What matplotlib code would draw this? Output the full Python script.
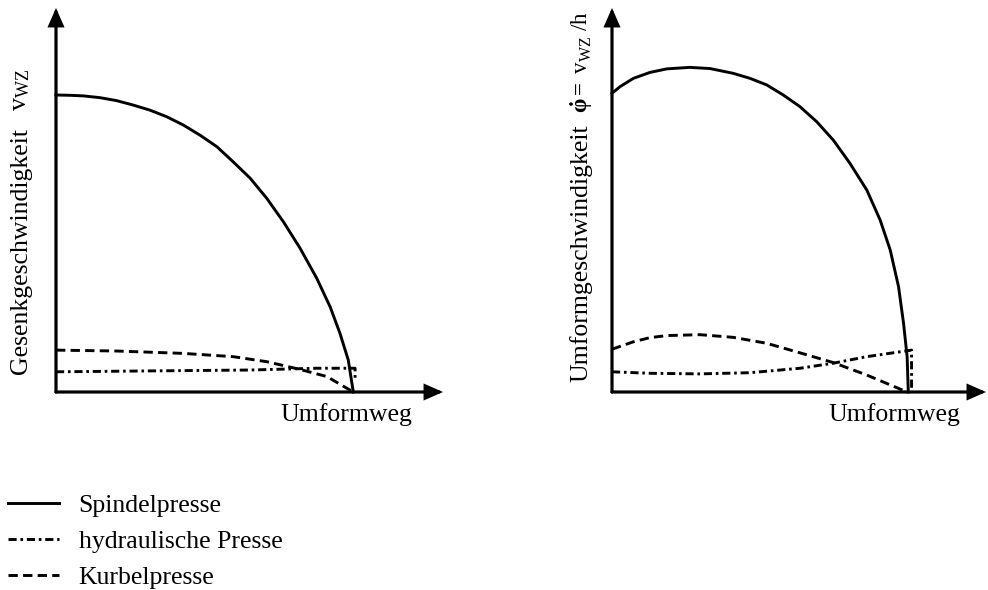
import matplotlib
matplotlib.use("Agg")
import matplotlib.pyplot as plt

plt.rcParams['font.family'] = ['Liberation Serif', 'DejaVu Serif']
plt.rcParams['mathtext.fontset'] = 'custom'
plt.rcParams['mathtext.rm'] = 'Liberation Serif'
plt.rcParams['mathtext.it'] = 'Liberation Serif:italic'
plt.rcParams['mathtext.bf'] = 'Liberation Serif:bold'

# Gesenkgeschwindigkeit (links), Weg 0..100 = Ende der Umformung
spindel_l_x = [0, 4.7, 9.2, 14.8, 20.4, 26.0, 31.6, 37.2, 42.8, 48.4, 54.1, 59.6, 65.3,
               70.9, 76.5, 82.1, 87.7, 92.2, 95.5, 98.3, 100]
spindel_l_y = [100, 99.9, 99.7, 99.1, 98.1, 96.6, 94.9, 92.7, 89.9, 86.5, 82.6, 77.5, 72.0,
               65.2, 57.3, 48.4, 38.3, 28.7, 19.8, 10.8, 0]
kurbel_l_x = [0, 20.4, 42.8, 59.6, 70.9, 82.1, 91.1, 100]
kurbel_l_y = [14.1, 13.8, 13.0, 11.9, 10.2, 7.6, 5.2, 0]
hydr_l_x = [0, 31.6, 65.3, 87.7, 100.6, 100.6]
hydr_l_y = [6.8, 7.1, 7.4, 8.0, 8.0, 4.0]

# Umformgeschwindigkeit (rechts)
spindel_r_x = [0, 2.7, 7.2, 12.8, 18.5, 26.3, 33.1, 40.9, 46.6, 52.2, 57.8, 63.4, 69.1,
               74.7, 80.3, 86.0, 90.5, 93.9, 96.7, 98.4, 99.6, 100]
spindel_r_y = [100.6, 102.8, 105.6, 107.6, 108.8, 109.3, 108.9, 107.3, 105.6, 103.4, 100.0,
               96.1, 91.0, 84.8, 77.0, 68.0, 57.9, 47.8, 35.5, 23.1, 11.9, 0]
kurbel_r_x = [0, 7.2, 12.8, 18.5, 29.7, 40.9, 52.2, 63.4, 74.7, 86.0, 99.6]
kurbel_r_y = [14.4, 16.9, 18.3, 19.0, 19.3, 18.4, 16.4, 13.2, 9.9, 5.7, 0]
hydr_r_x = [0, 12.8, 29.7, 46.6, 63.5, 74.7, 86.0, 101.1, 101.1]
hydr_r_y = [6.8, 6.3, 6.1, 6.5, 8.0, 9.7, 11.9, 14.1, 0]

labels = ['Spindelpresse', 'hydraulische Presse', 'Kurbelpresse']

fs = 18.5
lw = 2.1
dash = (3.2, 1.8)
dashdot = (2.8, 1.3, 0.9, 1.3)

fig = plt.figure(figsize=(9.88, 5.9), dpi=100)
W, H = 988.0, 590.0


def make_axes(x0, y0, x1, y1, scale):
    ax = fig.add_axes([x0 / W, (H - y0) / H, (x1 - x0) / W, (y0 - y1) / H])
    ax.set_xlim(0, (x1 - x0) / scale)
    ax.set_ylim(0, (y0 - y1) / 2.97)
    for s in ax.spines.values():
        s.set_visible(False)
    ax.set_xticks([])
    ax.set_yticks([])
    ax.patch.set_alpha(0)
    arrow = dict(arrowstyle='-|>,head_length=0.5,head_width=0.22', lw=2.3,
                 color='black', shrinkA=0, shrinkB=0, mutation_scale=20,
                 joinstyle='miter')
    ax.annotate('', xy=(1, 0), xytext=(0, 0), xycoords='axes fraction', arrowprops=arrow)
    ax.annotate('', xy=(0, 1), xytext=(0, 0), xycoords='axes fraction', arrowprops=arrow)
    return ax


ax1 = make_axes(56, 392, 443, 8, 2.973)
ax2 = make_axes(612, 392, 986, 8, 2.963)

style = dict(color='black', lw=lw, clip_on=False, solid_joinstyle='round',
             dash_capstyle='butt')
h1, = ax1.plot(spindel_l_x, spindel_l_y, **style)
h2, = ax1.plot(hydr_l_x, hydr_l_y, dashes=dashdot, **style)
h3, = ax1.plot(kurbel_l_x, kurbel_l_y, dashes=dash, **style)

ax2.plot(spindel_r_x, spindel_r_y, **style)
ax2.plot(hydr_r_x, hydr_r_y, dashes=dashdot, **style)
ax2.plot(kurbel_r_x, kurbel_r_y, dashes=dash, **style)

# Achsbeschriftungen
fig.text(346 / W, 1 - 415 / H, 'Umformweg', fontsize=fs, ha='center', va='center')
fig.text(894 / W, 1 - 415 / H, 'Umformweg', fontsize=fs, ha='center', va='center')

fig.text(21 / W, 1 - 251 / H, 'Gesenkgeschwindigkeit', fontsize=fs, rotation=90,
         ha='center', va='center')
fig.text(21 / W, 1 - 90 / H, r'$\mathregular{v_{WZ}}$', fontsize=fs, rotation=90,
         ha='center', va='center')

fig.text(581 / W, 1 - 253 / H, 'Umformgeschwindigkeit', fontsize=fs, rotation=90,
         ha='center', va='center')
fig.text(582 / W, 1 - 62 / H, r'$\mathbf{\dot{\varphi}=}\mathregular{\ v_{WZ}\ /h}$',
         fontsize=16.5, rotation=90, ha='center', va='center')

fig.legend([h1, h2, h3], labels, loc='upper left', bbox_to_anchor=(8 / W, 1 - 494 / H),
           frameon=False, fontsize=fs, handlelength=2.0, handletextpad=0.75,
           labelspacing=0.5, borderpad=0, borderaxespad=0)

fig.savefig('out.png', dpi=100)
